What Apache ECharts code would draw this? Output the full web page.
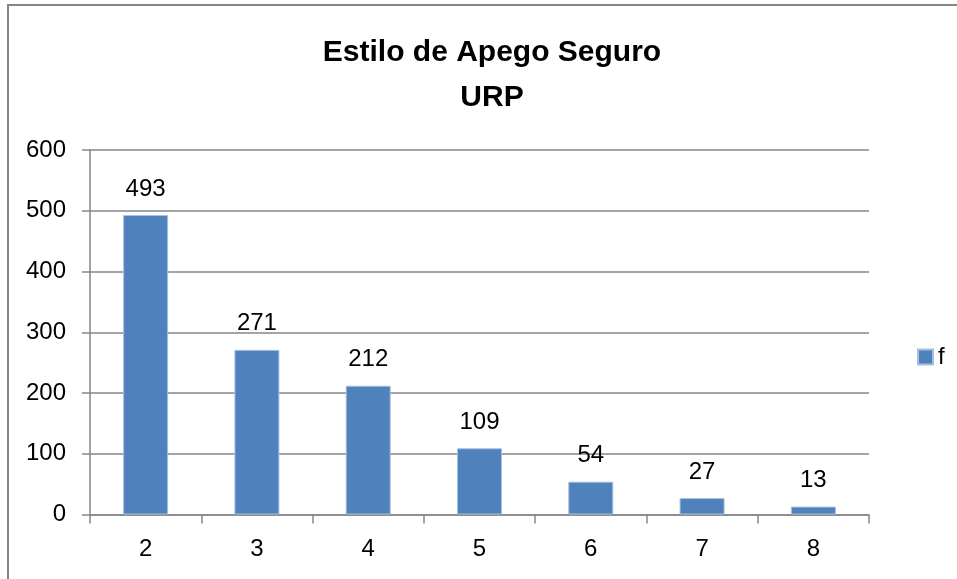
<!DOCTYPE html>
<html>
<head>
<meta charset="utf-8">
<script src="https://cdn.jsdelivr.net/npm/echarts@6/dist/echarts.min.js"></script>
<style>
html,body{margin:0;padding:0;background:#fff;}
#chart{width:957px;height:579px;}
</style>
</head>
<body>
<div id="chart"></div>
<script>
const categories = ['2','3','4','5','6','7','8'];
const values = [493, 271, 212, 109, 54, 27, 13];
const seriesName = 'f';
const titleText = 'Estilo de Apego Seguro\nURP';

const chart = echarts.init(document.getElementById('chart'), null, {renderer:'canvas'});
const font = '"Liberation Sans", Arial, sans-serif';
chart.setOption({
  animation: false,
  backgroundColor: '#ffffff',
  graphic: [{
    type: 'rect', silent: true, z: -1,
    shape: {x: 8, y: 5, width: 960, height: 600},
    style: {fill: 'none', stroke: '#868686', lineWidth: 2}
  }],
  title: {
    text: titleText,
    left: 487, top: 25, textAlign: 'center',
    textStyle: {fontFamily: font, fontWeight: 'bold', fontSize: 30, color: '#000', lineHeight: 45}
  },
  legend: {
    data: [seriesName],
    left: 912, top: 340,
    itemWidth: 15, itemHeight: 15, itemGap: 5,
    icon: 'rect',
    textStyle: {fontFamily: font, fontSize: 24, color: '#000', padding: [0,0,0,0]}
  },
  grid: {left: 90, right: 88, top: 150, bottom: 64.5, containLabel: false},
  xAxis: {
    type: 'category', data: categories,
    axisLine: {lineStyle: {color: '#868686', width: 1.5}},
    axisTick: {show: true, length: 9, alignWithLabel: false, lineStyle: {color: '#868686', width: 1.5}},
    axisLabel: {fontFamily: font, fontSize: 24, color: '#000', margin: 23}
  },
  yAxis: {
    type: 'value', min: 0, max: 600, interval: 100,
    axisLine: {show: true, lineStyle: {color: '#868686', width: 1.5}},
    axisTick: {show: true, length: 8, lineStyle: {color: '#868686', width: 1.5}},
    splitLine: {lineStyle: {color: '#868686', width: 1.5}},
    axisLabel: {fontFamily: font, fontSize: 24, color: '#000', margin: 24}
  },
  series: [{
    name: seriesName, type: 'bar', data: values,
    barWidth: 45,
    itemStyle: {color: '#4F81BD', borderColor: '#A7C0DE', borderWidth: 1},
    label: {show: true, position: 'top', distance: 14, fontFamily: font, fontSize: 24, color: '#000'}
  }]
});
</script>
</body>
</html>
